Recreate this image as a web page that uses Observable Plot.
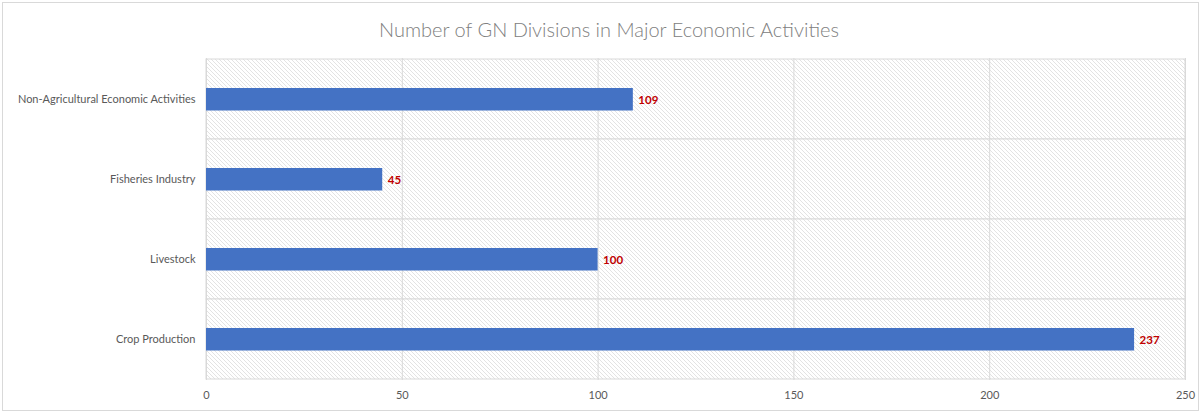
<!DOCTYPE html>
<html>
<head>
<meta charset="utf-8">
<script src="https://cdn.jsdelivr.net/npm/d3@7"></script>
<script src="https://cdn.jsdelivr.net/npm/@observablehq/plot@0.6"></script>
<style>
  html, body { margin: 0; padding: 0; background: #fff; }
  #wrap { position: relative; width: 1201px; height: 414px; }
  #border { position: absolute; left: 2px; top: 2px; width: 1195px; height: 407px; border: 1px solid #d9d9d9; pointer-events: none; }
</style>
</head>
<body>
<div id="wrap"><div id="border"></div></div>
<script>
const title = "Number of GN Divisions in Major Economic Activities";
const categories = ["Non-Agricultural Economic Activities", "Fisheries Industry", "Livestock", "Crop Production"];
const values = [109, 45, 100, 237];
const xTicks = [0, 50, 100, 150, 200, 250];

const data = categories.map((c, i) => ({category: c, value: values[i]}));

const defs = () => {
  const ns = "http://www.w3.org/2000/svg";
  const g = document.createElementNS(ns, "defs");
  g.innerHTML = `<pattern id="hatch" width="4" height="4" patternUnits="userSpaceOnUse">
      <rect width="4" height="4" fill="#ffffff"/>
      <path d="M-1,-1 L5,5 M-1,3 L1,5 M3,-1 L5,1" stroke="#e3e3e3" stroke-width="1"/>
    </pattern>`;
  return g;
};

const chart = Plot.plot({
  width: 1201,
  height: 414,
  marginLeft: 206,
  marginRight: 16,
  marginTop: 58,
  marginBottom: 34,
  style: {fontFamily: "Lato, 'Liberation Sans', sans-serif", fontSize: "11px", color: "#595959", background: "transparent"},
  x: {domain: [0, 250], ticks: xTicks, tickSize: 0, tickPadding: 11, label: null},
  y: {domain: categories, padding: 0, tickSize: 0, tickPadding: 11, label: null},
  marks: [
    defs,
    Plot.barX(categories, {y: d => d, x1: 0, x2: 250, fill: "url(#hatch)", stroke: "#d9d9d9", strokeWidth: 1}),
    Plot.gridX(xTicks, {stroke: "#d9d9d9", strokeOpacity: 1}),
    Plot.barX(data, {y: "category", x: "value", fill: "#4472C4", insetTop: 29, insetBottom: 28.5}),
    Plot.text(data, {y: "category", x: "value", text: d => String(d.value), dx: 5, dy: 1, textAnchor: "start", fill: "#C00000", fontWeight: "bold", fontSize: 11.5}),
    Plot.text([title], {frameAnchor: "top", text: d => d, dy: -36, dx: -87, fontSize: 20, fill: "#808080", fontWeight: 300})
  ]
});
document.getElementById("wrap").prepend(chart);
</script>
</body>
</html>
